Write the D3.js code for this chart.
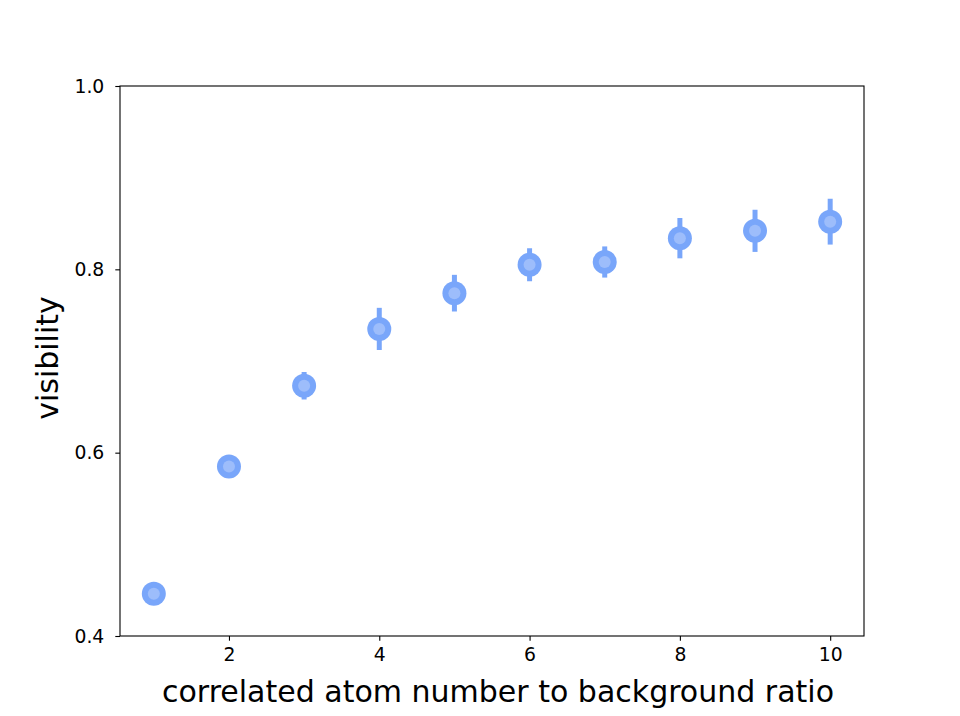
<!DOCTYPE html>
<html>
<head>
<meta charset="utf-8">
<script src="https://cdn.jsdelivr.net/npm/d3@7"></script>
<style>
  body { margin: 0; background: #fff; }
  text { font-family: "DejaVu Sans", sans-serif; }
</style>
</head>
<body>
<svg width="960" height="716"></svg>
<script>
// atom number ratio, visibility and its error
const ratios = [1, 2, 3, 4, 5, 6, 7, 8, 9, 10];
const visibility = [0.446, 0.585, 0.673, 0.735, 0.774, 0.805, 0.808, 0.834, 0.842, 0.852];
const errors = [0.004, 0.007, 0.015, 0.023, 0.020, 0.018, 0.017, 0.022, 0.023, 0.025];
const xTicks = [2, 4, 6, 8, 10];
const yTicks = [0.4, 0.6, 0.8, 1.0];

let svg = d3.select("svg"),
    margin = {top: 86, bottom: 80, left: 120, right: 96},
    width = svg.attr("width") - margin.left - margin.right,
    height = svg.attr("height") - margin.top - margin.bottom;

let g = svg.append("g")
    .attr("transform", "translate(" + margin.left + "," + margin.top + ")");

let xScale = d3.scaleLinear()
    .domain([0.55, 10.45])
    .range([0, width]);
let yScale = d3.scaleLinear()
    .domain([0.4, 1.0])
    .range([height, 0]);

// axes
let xAxis = g.append("g")
    .attr("transform", "translate(0," + height + ")")
    .call(d3.axisBottom(xScale).tickValues(xTicks).tickSize(4.7).tickPadding(7).tickFormat(d3.format("d")));
let yAxis = g.append("g")
    .call(d3.axisLeft(yScale).tickValues(yTicks).tickSize(4.7).tickPadding(11).tickFormat(d3.format(".1f")));

[xAxis, yAxis].forEach(a => {
    a.attr("font-size", null).attr("font-family", null);
    a.select(".domain").remove();
    a.selectAll("line").attr("stroke", "#000").attr("stroke-width", 1.1);
    a.selectAll("text")
        .style("font-family", "DejaVu Sans")
        .style("font-size", "18.8px")
        .attr("fill", "#000");
});

// frame
g.append("rect")
    .attr("width", width)
    .attr("height", height)
    .attr("fill", "none")
    .attr("stroke", "#000")
    .attr("stroke-width", 1.1);

let data = ratios.map((r, i) => ({x: r, y: visibility[i], e: errors[i]}));

// error bars
g.selectAll("line.err")
    .data(data)
    .join("line")
    .attr("class", "err")
    .attr("x1", d => xScale(d.x))
    .attr("x2", d => xScale(d.x))
    .attr("y1", d => yScale(d.y - d.e))
    .attr("y2", d => yScale(d.y + d.e))
    .attr("stroke", "#79a6fa")
    .attr("stroke-width", 5);

// markers
g.selectAll("circle.outer")
    .data(data)
    .join("circle")
    .attr("class", "outer")
    .attr("cx", d => xScale(d.x))
    .attr("cy", d => yScale(d.y))
    .attr("r", 12)
    .attr("fill", "#79a6fa");
g.selectAll("circle.inner")
    .data(data)
    .join("circle")
    .attr("class", "inner")
    .attr("cx", d => xScale(d.x))
    .attr("cy", d => yScale(d.y))
    .attr("r", 6)
    .attr("fill", "#9dbdfb");

// axis labels
svg.append("text")
    .attr("x", margin.left + width / 2 + 6)
    .attr("y", 702)
    .attr("text-anchor", "middle")
    .style("font-size", "30px")
    .text("correlated atom number to background ratio");
svg.append("text")
    .attr("transform", "translate(58," + (margin.top + height / 2 - 3) + ") rotate(-90)")
    .attr("text-anchor", "middle")
    .style("font-size", "30px")
    .text("visibility");
</script>
</body>
</html>
